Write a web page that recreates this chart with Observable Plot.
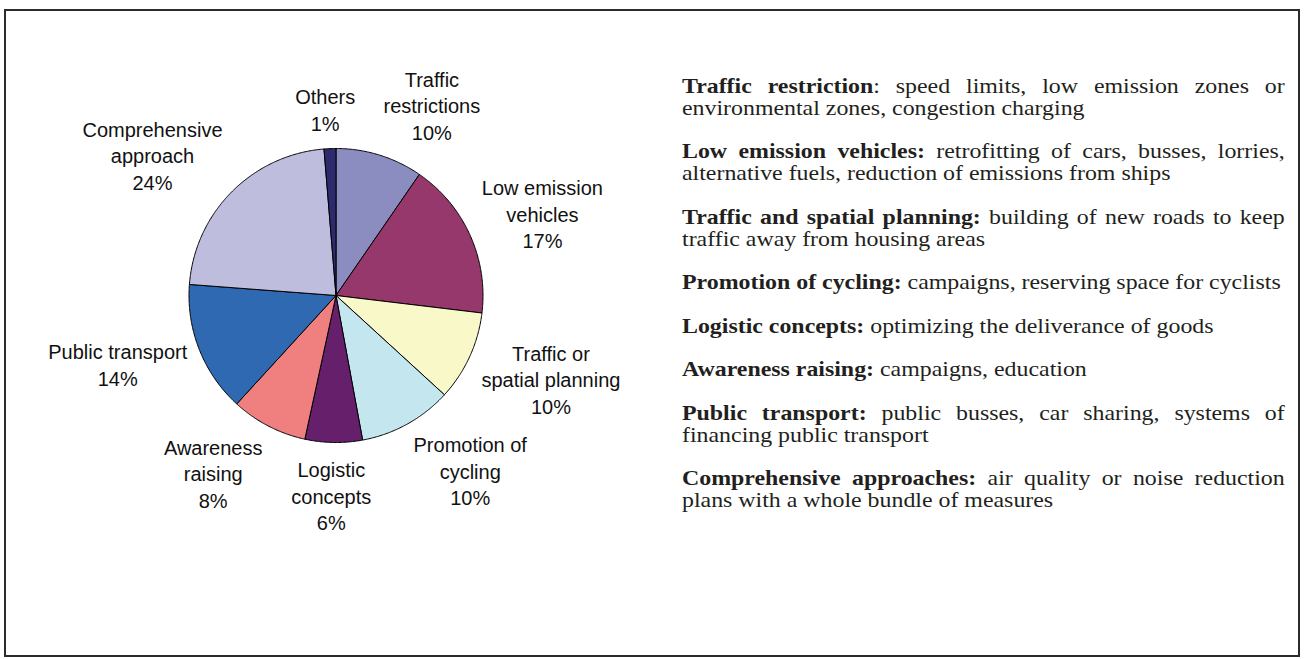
<!DOCTYPE html>
<html><head><meta charset="utf-8">
<script src="https://cdn.jsdelivr.net/npm/d3@7"></script>
<script src="https://cdn.jsdelivr.net/npm/@observablehq/plot@0.6"></script>
<style>
html,body{margin:0;padding:0;background:#fff;}
#wrap{position:relative;width:1306px;height:659px;overflow:hidden;background:#fff;}
#frame{position:absolute;left:4px;top:9px;width:1292px;height:644px;border:2px solid #2b2b2b;}
#chart{position:absolute;left:0;top:0;}
#notes{position:absolute;left:682px;top:76px;width:543px;transform:scaleX(1.11);transform-origin:0 0;
  font-family:"Liberation Serif","Times New Roman",serif;font-size:21.5px;line-height:21.8px;color:#231f20;text-align:justify;}
#notes p{margin:0 0 21.8px 0;}
#notes b{font-weight:bold;}
</style></head><body>
<div id="wrap"><div id="frame"></div><div id="chart"></div><div id="notes"></div></div>
<script>
// ---- data ----
const categories = ["Traffic restrictions","Low emission vehicles","Traffic or spatial planning","Promotion of cycling","Logistic concepts","Awareness raising","Public transport","Comprehensive approach","Others"];
const shares = [9.6, 17.3, 9.9, 10.3, 6.3, 8.4, 14.4, 22.5, 1.3];
const pctLabels = ["10%","17%","10%","10%","6%","8%","14%","24%","1%"];
const sliceLabels = ["Traffic\nrestrictions","Low emission\nvehicles","Traffic or\nspatial planning","Promotion of\ncycling","Logistic\nconcepts","Awareness\nraising","Public transport","Comprehensive\napproach","Others"];
const palette = ["#8b8dc1","#96386b","#f8f8c9","#c3e6ef","#66206b","#f08080","#2e69b1","#bebddd","#2e2a6e"];
const noteTerms = ["Traffic restriction","Low emission vehicles:","Traffic and spatial planning:","Promotion of cycling:","Logistic concepts:","Awareness raising:","Public transport:","Comprehensive approaches:"];
const noteTexts = [": speed limits, low emission zones or environmental zones, congestion charging"," retrofitting of cars, busses, lorries, alternative fuels, reduction of emissions from ships"," building of new roads to keep traffic away from housing areas"," campaigns, reserving space for cyclists"," optimizing the deliverance of goods"," campaigns, education"," public busses, car sharing, systems of financing public transport"," air quality or noise reduction plans with a whole bundle of measures"];

// ---- layout ----
const W = 1306, H = 659, cx = 335.5, cy = 295, R = 147;
const labelFont = "20px 'Liberation Sans', Arial, sans-serif";
const linePitch = 26.5;
const ctx = document.createElement("canvas").getContext("2d");
ctx.font = labelFont;

const total = d3.sum(shares);
let cum = 0;
const slices = [];
const labels = [];
categories.forEach((c, i) => {
  const a0 = cum / total * 2 * Math.PI;
  cum += shares[i];
  const a1 = cum / total * 2 * Math.PI;
  const n = Math.max(2, Math.ceil((a1 - a0) / (Math.PI / 360)));
  const pts = [{x: 0, y: 0}];
  for (let k = 0; k <= n; k++) {
    const a = a0 + (a1 - a0) * k / n;
    pts.push({x: Math.sin(a), y: Math.cos(a)});
  }
  pts.push({x: 0, y: 0});
  slices.push({pts, color: palette[i]});
  const text = sliceLabels[i] + "\n" + pctLabels[i];
  const lines = text.split("\n");
  const w = d3.max(lines, l => ctx.measureText(l).width) / 2;
  const h = lines.length * linePitch / 2;
  const m = (a0 + a1) / 2;
  const ux = Math.sin(m), uy = Math.cos(m);
  const rr = R + 13;
  const px = rr * ux + w * Math.max(-1, Math.min(1, 3.5 * ux));
  const py = rr * uy + h * uy;
  labels.push({x: px / R, y: py / R, text});
});

const chart = Plot.plot({
  width: W, height: H, margin: 0,
  x: {domain: [-cx / R, (W - cx) / R], axis: null},
  y: {domain: [(cy - H) / R, cy / R], axis: null},
  style: {background: "transparent", overflow: "visible"},
  marks: [
    ...slices.map(s => Plot.line(s.pts, {x: "x", y: "y", fill: s.color, stroke: "#000", strokeWidth: 1, strokeLinejoin: "round", curve: "linear"})),
    Plot.text(labels, {x: "x", y: "y", text: "text", fontSize: 20, lineHeight: linePitch / 20,
      fontFamily: "'Liberation Sans', Arial, sans-serif", textAnchor: "middle", lineAnchor: "middle", fill: "#111"})
  ]
});
document.getElementById("chart").appendChild(chart);

const notes = document.getElementById("notes");
noteTerms.forEach((t, i) => {
  const p = document.createElement("p");
  const b = document.createElement("b");
  b.textContent = t;
  p.appendChild(b);
  p.appendChild(document.createTextNode(noteTexts[i]));
  notes.appendChild(p);
});
</script>
</body></html>
